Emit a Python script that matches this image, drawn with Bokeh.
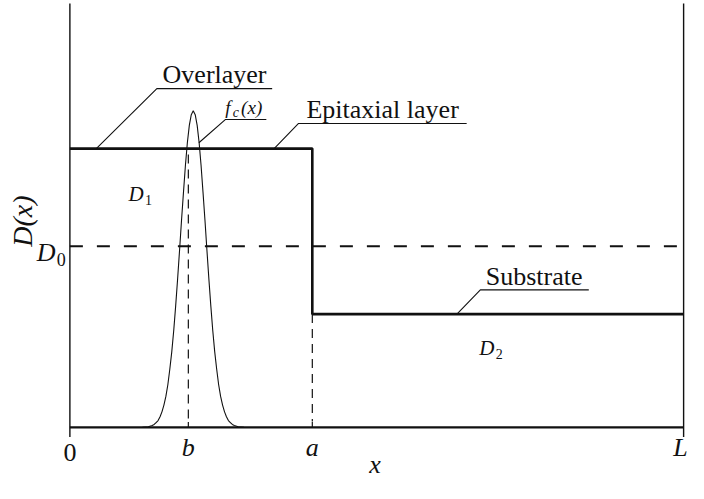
import math
from bokeh.plotting import figure
from bokeh.models import Range1d
from bokeh.core.properties import value
from bokeh.embed import file_html
from bokeh.resources import INLINE

# ---- data (schematic values) ----
tick_pos = [0.0, 1.93, 3.95, 10.0]          # 0, b, a, L
tick_labels = ["0", "b", "a", "L"]
b_pos = 1.93
a_pos = 3.95
L_pos = 10.0
D1 = 2.88
D0 = 1.87
D2 = 1.17
step_x = [0.0, a_pos, a_pos, L_pos]
step_y = [D1, D1, D2, D2]

fc_peak_x = 2.01
fc_offset = [0.0, 0.032, 0.064, 0.096, 0.127, 0.159, 0.191, 0.223, 0.255, 0.287,
             0.318, 0.350, 0.382, 0.414, 0.446, 0.478, 0.510, 0.541, 0.573, 0.605,
             0.637, 0.669, 0.732, 0.828]
fc_height = [3.27, 3.23, 3.12, 2.94, 2.71, 2.43, 2.14, 1.83, 1.53, 1.25,
             1.00, 0.78, 0.60, 0.44, 0.32, 0.23, 0.16, 0.11, 0.07, 0.05,
             0.03, 0.02, 0.006, 0.0]

fc_x = [fc_peak_x - o for o in reversed(fc_offset)] + [fc_peak_x + o for o in fc_offset[1:]]
fc_y = list(reversed(fc_height)) + fc_height[1:]

# annotation leaders: (start on curve) -> elbow -> end of underline
overlayer_x = [0.43, 1.417, 3.296]
overlayer_y = [D1, 3.50, 3.50]
epi_x = [3.328, 3.726, 6.465]
epi_y = [D1, 3.14, 3.14]
fc_lab_x = [2.102, 2.532, 3.201]
fc_lab_y = [2.94, 3.18, 3.18]
sub_x = [6.306, 6.688, 8.455]
sub_y = [D2, 1.42, 1.42]

FONT = value("Liberation Serif")
INK = "#111111"

p = figure(width=688, height=483,
           x_range=Range1d(-1.13057, 10.07962), y_range=Range1d(-0.58, 4.41),
           x_axis_type=None, y_axis_type=None,
           toolbar_location=None, output_backend="svg", min_border=0)
p.grid.visible = False
p.outline_line_color = None
p.background_fill_color = "white"
p.border_fill_color = "white"

# frame lines: left and right verticals, bottom axis
p.segment(x0=[0.0, L_pos], y0=[-0.10, -0.10], x1=[0.0, L_pos], y1=[4.38, 4.38],
          line_color=INK, line_width=1.4)
p.line(x=[0.0, L_pos], y=[0.0, 0.0], line_color=INK, line_width=2.2)
# small inner ticks at b and a
p.segment(x0=[b_pos, a_pos], y0=[0.0, 0.0], x1=[b_pos, a_pos], y1=[0.055, 0.055],
          line_color=INK, line_width=1.2)

# dashed reference lines
p.line(x=[0.0, L_pos], y=[D0, D0], line_color=INK, line_width=2.0, line_dash="13 14")
p.segment(x0=[b_pos, a_pos], y0=[D1 - 0.06, D2], x1=[b_pos, a_pos], y1=[0.06, 0.06],
          line_color=INK, line_width=1.2, line_dash="9 6")

# step profile D(x)
p.line(x=step_x, y=step_y, line_color=INK, line_width=2.6)

# gaussian f_c(x)
p.line(x=fc_x, y=fc_y, line_color=INK, line_width=1.1)

# leaders
p.multi_line(xs=[overlayer_x, epi_x, fc_lab_x, sub_x],
             ys=[overlayer_y, epi_y, fc_lab_y, sub_y],
             line_color=INK, line_width=1.1)

# labels
p.text(x=[2.357, 5.096, 7.564], y=[3.646, 3.286, 1.556],
       text=["Overlayer", "Epitaxial layer", "Substrate"],
       text_font=FONT, text_font_size="26px", text_align="center",
       text_baseline="alphabetic", text_color=INK)

# f_c(x)
p.text(x=[2.532], y=[3.30], text=["f"], text_font=FONT, text_font_size="19px",
       text_font_style="italic", text_align="left", text_baseline="alphabetic", text_color=INK)
p.text(x=[2.655], y=[3.25], text=["c"], text_font=FONT, text_font_size="14px",
       text_font_style="italic", text_align="left", text_baseline="alphabetic", text_color=INK)
p.text(x=[2.79], y=[3.30], text=["(x)"], text_font=FONT, text_font_size="19px",
       text_font_style="italic", text_align="left", text_baseline="alphabetic", text_color=INK)

# D1, D2
p.text(x=[0.955, 6.672], y=[2.41, 0.82], text=["D", "D"], text_font=FONT,
       text_font_size="21px", text_font_style="italic", text_align="left",
       text_baseline="alphabetic", text_color=INK)
p.text(x=[1.225, 6.94], y=[2.35, 0.76], text=["1", "2"], text_font=FONT,
       text_font_size="14px", text_align="left", text_baseline="alphabetic", text_color=INK)

# D0 label
p.text(x=[-0.541], y=[1.81], text=["D"], text_font=FONT, text_font_size="26px",
       text_font_style="italic", text_align="left", text_baseline="alphabetic", text_color=INK)
p.text(x=[-0.215], y=[1.73], text=["0"], text_font=FONT, text_font_size="18px",
       text_align="left", text_baseline="alphabetic", text_color=INK)

# y-axis title
p.text(x=[-0.78], y=[2.13], text=["D(x)"], text_font=FONT, text_font_size="28px",
       text_font_style="italic", text_align="center", text_baseline="middle",
       angle=math.pi / 2, text_color=INK)

# tick labels
p.text(x=[tick_pos[0]], y=[-0.26], text=[tick_labels[0]], text_font=FONT,
       text_font_size="26px", text_align="center", text_baseline="alphabetic", text_color=INK)
p.text(x=tick_pos[1:3], y=[-0.21, -0.21], text=tick_labels[1:3], text_font=FONT,
       text_font_size="26px", text_font_style="italic", text_align="center",
       text_baseline="alphabetic", text_color=INK)
p.text(x=[10.065], y=[-0.21], text=[tick_labels[3]], text_font=FONT,
       text_font_size="26px", text_font_style="italic", text_align="right",
       text_baseline="alphabetic", text_color=INK)

# x-axis title
p.text(x=[4.97], y=[-0.38], text=["x"], text_font=FONT, text_font_size="26px",
       text_font_style="italic", text_align="center", text_baseline="alphabetic", text_color=INK)

open("out.html", "w").write(file_html(p, INLINE))
